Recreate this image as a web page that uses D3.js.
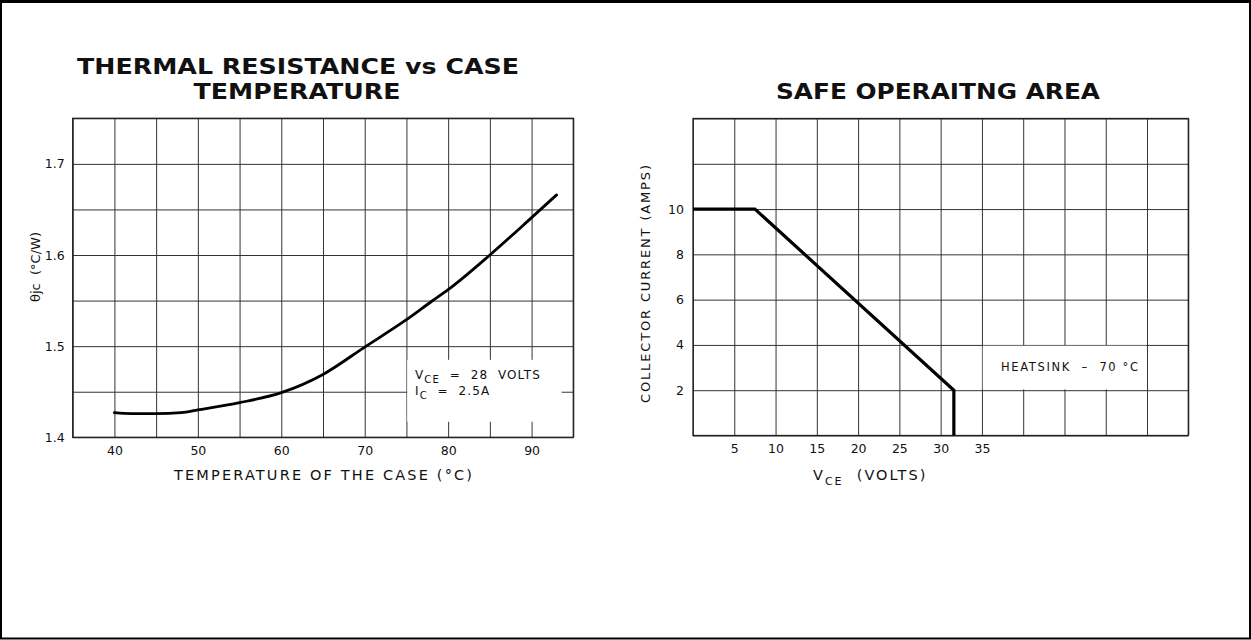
<!DOCTYPE html>
<html><head><meta charset="utf-8">
<script src="https://cdn.jsdelivr.net/npm/d3@7/dist/d3.min.js"></script>
<style>
body{margin:0;background:#fff}
svg{display:block}
text{font-family:"DejaVu Sans",sans-serif;fill:#111}
</style>
</head><body>
<svg id="c" width="1251" height="640"></svg>
<script>
// ---- Thermal resistance vs case temperature ----
const thermalTemp = [40, 42, 45, 48, 50, 55, 60, 65, 70, 75, 78, 80, 85, 90, 93];
const thermalRes  = [1.427, 1.426, 1.426, 1.427, 1.430, 1.438, 1.449, 1.469, 1.499, 1.529, 1.549, 1.562, 1.600, 1.641, 1.666];
const thermalXGrid = [35, 40, 45, 50, 55, 60, 65, 70, 75, 80, 85, 90, 95];
const thermalXLabels = [40, 50, 60, 70, 80, 90];
const thermalYGrid = [1.40, 1.45, 1.50, 1.55, 1.60, 1.65, 1.70, 1.75];
const thermalYLabels = [1.4, 1.5, 1.6, 1.7];

// ---- Safe operating area ----
const soaVolts = [0, 7.5, 31.6, 31.6];
const soaAmps  = [10, 10, 2, 0];
const soaXGrid = [0, 5, 10, 15, 20, 25, 30, 35, 40, 45, 50, 55, 60];
const soaXLabels = [5, 10, 15, 20, 25, 30, 35];
const soaYGrid = [0, 2, 4, 6, 8, 10, 12, 14];
const soaYLabels = [2, 4, 6, 8, 10];

const svg = d3.select("#c");
const GRID = "#333";

// outer border
svg.append("rect").attr("x",1).attr("y",1.5).attr("width",1249).attr("height",637)
  .attr("fill","none").attr("stroke","#000").attr("stroke-width",2);
svg.append("line").attr("x1",0).attr("x2",1251).attr("y1",1.5).attr("y2",1.5)
  .attr("stroke","#000").attr("stroke-width",3);

function drawGrid(g, x, y, xGrid, xLabels, yGrid, yLabels, xPad, yPad, fs){
  const w = x.range()[1]-x.range()[0], h = y.range()[0]-y.range()[1];
  const xa = g.append("g").attr("transform",`translate(0,${y.range()[0]})`)
    .call(d3.axisBottom(x).tickValues(xGrid).tickSizeInner(-h).tickSizeOuter(0).tickPadding(xPad)
      .tickFormat(d => xLabels.includes(d) ? String(d) : ""));
  const ya = g.append("g").attr("transform",`translate(${x.range()[0]},0)`)
    .call(d3.axisLeft(y).tickValues(yGrid).tickSizeInner(-w).tickSizeOuter(0).tickPadding(yPad)
      .tickFormat(d => yLabels.includes(d) ? String(d) : ""));
  [xa, ya].forEach(a => {
    a.select(".domain").remove();
    a.selectAll(".tick line").attr("stroke",GRID).attr("stroke-width",1);
    a.selectAll(".tick text").attr("font-size",fs).attr("font-family","DejaVu Sans").attr("fill","#111");
  });
  g.append("rect").attr("x",x.range()[0]).attr("y",y.range()[1]).attr("width",w).attr("height",h)
    .attr("fill","none").attr("stroke","#222").attr("stroke-width",1.3);
}

// ===== Left chart =====
const xL = d3.scaleLinear().domain([35,95]).range([72.7,573.3]);
const yL = d3.scaleLinear().domain([1.40,1.75]).range([437.3,118.3]);
const gL = svg.append("g");
drawGrid(gL, xL, yL, thermalXGrid, thermalXLabels, thermalYGrid, thermalYLabels, 9, 8, 12.5);

// legend box (covers grid)
gL.append("rect").attr("x",xL(75)+0.8).attr("y",yL(1.485)).attr("width",xL(93.6)-xL(75)-0.8)
  .attr("height",yL(1.417)-yL(1.485)).attr("fill","#fff");

const lineL = d3.line().x((d,i)=>xL(thermalTemp[i])).y(d=>yL(d)).curve(d3.curveMonotoneX);
gL.append("path").datum(thermalRes).attr("d",lineL).attr("fill","none")
  .attr("stroke","#000").attr("stroke-width",2.8).attr("stroke-linecap","round");

// legend text
const lg1 = gL.append("text").attr("x",415).attr("y",378.5).attr("font-size",12)
  .attr("letter-spacing",1.1).style("white-space","pre");
lg1.append("tspan").text("V");
lg1.append("tspan").attr("font-size",10).attr("dy",4).text("CE");
lg1.append("tspan").attr("dy",-4).text("  =  28  VOLTS");
const lg2 = gL.append("text").attr("x",415).attr("y",395).attr("font-size",12)
  .attr("letter-spacing",1.1).style("white-space","pre");
lg2.append("tspan").text("I");
lg2.append("tspan").attr("font-size",10).attr("dy",4).text("C");
lg2.append("tspan").attr("dy",-4).text("  =  2.5A");

// titles
svg.append("text").attr("x",298).attr("y",73.5).attr("text-anchor","middle")
  .attr("font-size",21).attr("font-weight","bold").attr("textLength",442).attr("lengthAdjust","spacingAndGlyphs")
  .text("THERMAL RESISTANCE vs CASE");
svg.append("text").attr("x",297).attr("y",98.5).attr("text-anchor","middle")
  .attr("font-size",21).attr("font-weight","bold").attr("textLength",207).attr("lengthAdjust","spacingAndGlyphs")
  .text("TEMPERATURE");
// axis titles
svg.append("text").attr("x",174).attr("y",480).attr("font-size",14.5)
  .attr("textLength",298).attr("lengthAdjust","spacing")
  .text("TEMPERATURE OF THE CASE (°C)");
svg.append("text").attr("transform","translate(40,267) rotate(-90)").attr("text-anchor","middle")
  .attr("font-size",13).style("white-space","pre").text("θjc  (°C/W)");

// ===== Right chart =====
const xR = d3.scaleLinear().domain([0,60]).range([693,1188.3]);
const yR = d3.scaleLinear().domain([0,14]).range([435.5,118.5]);
const gR = svg.append("g");
drawGrid(gR, xR, yR, soaXGrid, soaXLabels, soaYGrid, soaYLabels, 8.5, 9, 12.5);

gR.append("rect").attr("x",xR(35)+0.8).attr("y",yR(4)+0.8).attr("width",xR(55)-xR(35)-1.6)
  .attr("height",yR(2)-yR(4)-1.6).attr("fill","#fff");
gR.append("text").attr("x",1001).attr("y",371).attr("font-size",11.5)
  .attr("textLength",137).attr("lengthAdjust","spacing").style("white-space","pre")
  .text("HEATSINK  –  70 °C");

const lineR = d3.line().x((d,i)=>xR(soaVolts[i])).y(d=>yR(d));
gR.append("path").datum(soaAmps).attr("d",lineR).attr("fill","none")
  .attr("stroke","#000").attr("stroke-width",3.2).attr("stroke-linejoin","miter");

svg.append("text").attr("x",938).attr("y",98.5).attr("text-anchor","middle")
  .attr("font-size",22).attr("font-weight","bold").attr("textLength",324).attr("lengthAdjust","spacingAndGlyphs")
  .text("SAFE OPERAITNG AREA");

const xt = svg.append("text").attr("x",813).attr("y",480).attr("font-size",14.5)
  .attr("letter-spacing",2).style("white-space","pre");
xt.append("tspan").text("V");
xt.append("tspan").attr("font-size",11).attr("dy",5).text("CE");
xt.append("tspan").attr("dy",-5).text("  (VOLTS)");

svg.append("text").attr("transform","translate(650,284) rotate(-90)").attr("text-anchor","middle")
  .attr("font-size",13).attr("textLength",238).attr("lengthAdjust","spacing")
  .text("COLLECTOR CURRENT (AMPS)");
</script>
</body></html>
